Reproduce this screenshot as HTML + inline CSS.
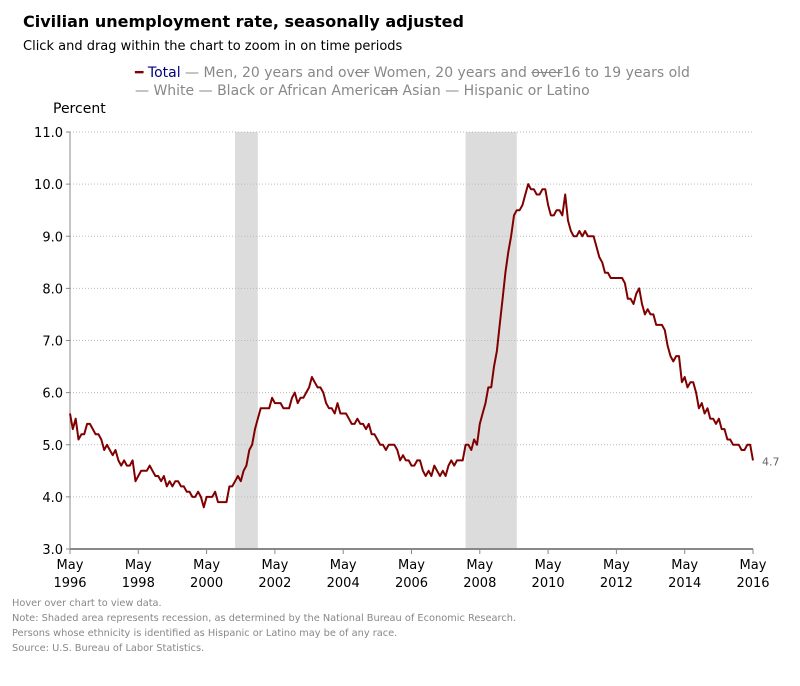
<!DOCTYPE html>
<html><head><meta charset="utf-8">
<style>
body{margin:0;background:#fff;font-family:"DejaVu Sans","Liberation Sans",sans-serif;}
#wrap{position:relative;width:800px;height:686px;overflow:hidden;}
.t{position:absolute;white-space:nowrap;}
</style></head>
<body>
<div id="wrap">
<div class="t" style="left:23px;top:12px;font-size:16px;font-weight:bold;color:#000;">Civilian unemployment rate, seasonally adjusted</div>
<div class="t" style="left:23px;top:39px;font-size:13px;color:#000;">Click and drag within the chart to zoom in on time periods</div>
<div class="t" style="left:135px;top:65px;font-size:14px;color:#888;">
<span><span style="color:#800000">━</span> <span style="color:#000080">Total</span></span>
<span>— Men, 20 years and ov<s>er</s></span><span> Women, 20 years and <s>over</s></span><span>16 to 19 years old</span></div>
<div class="t" style="left:135px;top:83px;font-size:14px;color:#888;">
<span>— White</span>
<span>— Black or African Americ<s>an</s></span><span> Asian</span>
<span>— Hispanic or Latino</span></div>
<div class="t" style="left:53px;top:101px;font-size:14px;color:#000;">Percent</div>
<svg id="chart" width="800" height="686" style="position:absolute;left:0;top:0;"></svg>
<div class="t" style="left:12px;top:596px;font-size:9.8px;color:#888;line-height:15px;">Hover over chart to view data.<br>Note: Shaded area represents recession, as determined by the National Bureau of Economic Research.<br>Persons whose ethnicity is identified as Hispanic or Latino may be of any race.<br>Source: U.S. Bureau of Labor Statistics.</div>
</div>
<script>
const startYear = 1996, startMonth = 5;
const values = [
5.6,5.3,5.5,5.1,5.2,5.2,5.4,5.4,
5.3,5.2,5.2,5.1,4.9,5.0,4.9,4.8,4.9,4.7,4.6,4.7,
4.6,4.6,4.7,4.3,4.4,4.5,4.5,4.5,4.6,4.5,4.4,4.4,
4.3,4.4,4.2,4.3,4.2,4.3,4.3,4.2,4.2,4.1,4.1,4.0,
4.0,4.1,4.0,3.8,4.0,4.0,4.0,4.1,3.9,3.9,3.9,3.9,
4.2,4.2,4.3,4.4,4.3,4.5,4.6,4.9,5.0,5.3,5.5,5.7,
5.7,5.7,5.7,5.9,5.8,5.8,5.8,5.7,5.7,5.7,5.9,6.0,
5.8,5.9,5.9,6.0,6.1,6.3,6.2,6.1,6.1,6.0,5.8,5.7,
5.7,5.6,5.8,5.6,5.6,5.6,5.5,5.4,5.4,5.5,5.4,5.4,
5.3,5.4,5.2,5.2,5.1,5.0,5.0,4.9,5.0,5.0,5.0,4.9,
4.7,4.8,4.7,4.7,4.6,4.6,4.7,4.7,4.5,4.4,4.5,4.4,
4.6,4.5,4.4,4.5,4.4,4.6,4.7,4.6,4.7,4.7,4.7,5.0,
5.0,4.9,5.1,5.0,5.4,5.6,5.8,6.1,6.1,6.5,6.8,7.3,
7.8,8.3,8.7,9.0,9.4,9.5,9.5,9.6,9.8,10.0,9.9,9.9,
9.8,9.8,9.9,9.9,9.6,9.4,9.4,9.5,9.5,9.4,9.8,9.3,
9.1,9.0,9.0,9.1,9.0,9.1,9.0,9.0,9.0,8.8,8.6,8.5,
8.3,8.3,8.2,8.2,8.2,8.2,8.2,8.1,7.8,7.8,7.7,7.9,
8.0,7.7,7.5,7.6,7.5,7.5,7.3,7.3,7.3,7.2,6.9,6.7,
6.6,6.7,6.7,6.2,6.3,6.1,6.2,6.2,6.0,5.7,5.8,5.6,
5.7,5.5,5.5,5.4,5.5,5.3,5.3,5.1,5.1,5.0,5.0,5.0,
4.9,4.9,5.0,5.0,4.7];
const yTicks = [3,4,5,6,7,8,9,10,11];
const xTickYears = [1996,1998,2000,2002,2004,2006,2008,2010,2012,2014,2016];
const recessions = [[2001,3,2001,11],[2007,12,2009,6]];

const X0=70, X1=753, Y0=549, Y1=132, totalMonths=240;
const xm = m => X0 + (X1-X0)*m/totalMonths;
const xd = (y,mo) => xm((y-startYear)*12 + (mo-startMonth));
const yv = v => Y0 - (v-3)/(11-3)*(Y0-Y1);
const svg = document.getElementById('chart');
const NS='http://www.w3.org/2000/svg';
function mk(tag, attrs){const e=document.createElementNS(NS,tag);for(const k in attrs)e.setAttribute(k,attrs[k]);svg.appendChild(e);return e;}

recessions.forEach(r=>{
  const e=mk('rect',{x:xd(r[0],r[1]),y:Y1,width:xd(r[2],r[3])-xd(r[0],r[1]),height:Y0-Y1,fill:'#dcdcdc'});
  
  
});
yTicks.forEach(t=>{
  if(t>3){const g=mk('line',{x1:X0,x2:X1,y1:yv(t),y2:yv(t),stroke:'#bbb','stroke-dasharray':'1,2','stroke-width':1});
  
  }
  const tk=mk('line',{x1:X0-4,x2:X0,y1:yv(t),y2:yv(t),stroke:'#888'});
  
  
  const tx=mk('text',{x:X0-7,y:yv(t)+5,'text-anchor':'end','font-size':13,fill:'#000','font-family':'DejaVu Sans, sans-serif'});
  tx.textContent=t.toFixed(1);
  
  
});
const ya=mk('line',{x1:X0,x2:X0,y1:Y1,y2:Y0,stroke:'#888'});


const xa=mk('line',{x1:X0,x2:X1,y1:Y0,y2:Y0,stroke:'#888','stroke-width':2});


xTickYears.forEach(yr=>{
  const x=xd(yr,5);
  const tk=mk('line',{x1:x,x2:x,y1:Y0,y2:Y0+5,stroke:'#888'});
  
  
  const t1=mk('text',{x:x,y:Y0+20,'text-anchor':'middle','font-size':13,fill:'#000','font-family':'DejaVu Sans, sans-serif'});
  t1.textContent='May';
  
  
  const t2=mk('text',{x:x,y:Y0+38,'text-anchor':'middle','font-size':13,fill:'#000','font-family':'DejaVu Sans, sans-serif'});
  t2.textContent=String(yr);
  
  
});
const pts=values.map((v,i)=>xm(i).toFixed(1)+','+yv(v).toFixed(1)).join(' ');
const line=mk('polyline',{points:pts,fill:'none',stroke:'#800000','stroke-width':2,'stroke-linejoin':'round'});


const last=values[values.length-1];
const lbl=mk('text',{x:xm(values.length-1)+9,y:yv(last)+5,'font-size':11,fill:'#666','font-family':'DejaVu Sans, sans-serif'});
lbl.textContent=last.toFixed(1);


</script>
</body></html>
